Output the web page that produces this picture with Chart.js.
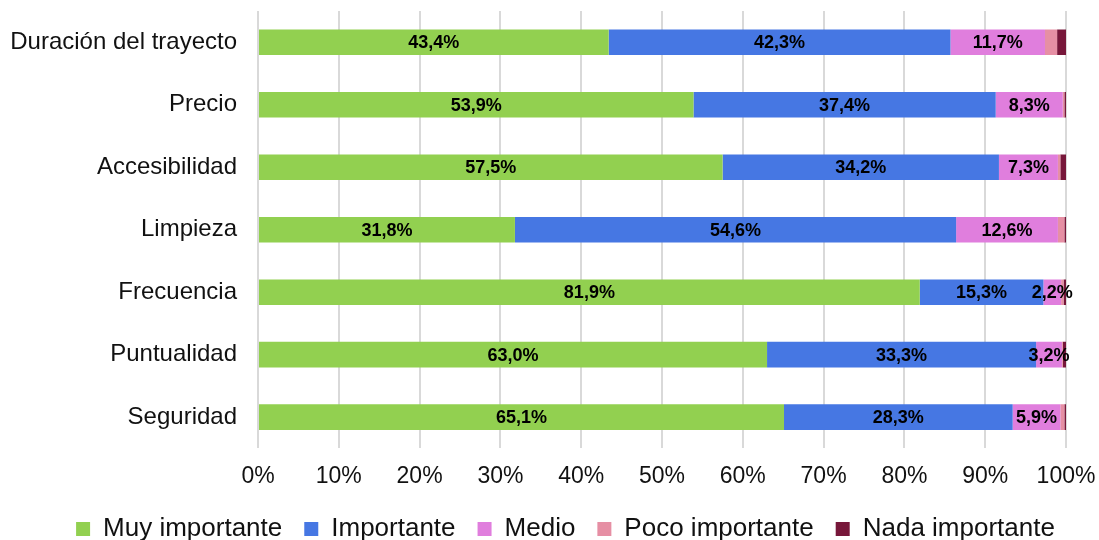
<!DOCTYPE html>
<html>
<head>
<meta charset="utf-8">
<script src="https://cdn.jsdelivr.net/npm/chart.js@4"></script>
<style>
  html, body { margin: 0; padding: 0; background: #fff; }
  #wrap { width: 1099px; height: 540px; }
</style>
</head>
<body>
<div id="wrap"><canvas id="FactoresChart"></canvas></div>
<script>
// Categorias
var categorias = ["Duración del trayecto", "Precio", "Accesibilidad", "Limpieza", "Frecuencia", "Puntualidad", "Seguridad"];

// Porcentajes por nivel de importancia
var muyImportante = [43.4, 53.9, 57.5, 31.8, 81.9, 63.0, 65.1];
var importante = [42.3, 37.4, 34.2, 54.6, 15.3, 33.3, 28.3];
var medio = [11.7, 8.3, 7.3, 12.6, 2.2, 3.2, 5.9];
var pocoImportante = [1.5, 0.2, 0.3, 0.8, 0.3, 0.1, 0.5];
var nadaImportante = [1.1, 0.2, 0.7, 0.2, 0.3, 0.4, 0.2];

var fuente = '"Liberation Sans", Arial, sans-serif';

// etiquetas dentro de las barras (solo las tres primeras series)
var etiquetasPlugin = {
    id: 'etiquetas',
    afterLayout: function (chart) {
        // centrar la leyenda como en el original
        if (chart.legend) {
            chart.legend.left += 11;
            chart.legend.right += 11;
        }
    },
    afterDatasetsDraw: function (chart) {
        var ctx = chart.ctx;
        ctx.save();
        ctx.font = 'bold 18px ' + fuente;
        ctx.fillStyle = '#000';
        ctx.textAlign = 'center';
        ctx.textBaseline = 'middle';
        chart.data.datasets.forEach(function (ds, i) {
            if (i > 2) return;
            chart.getDatasetMeta(i).data.forEach(function (bar, j) {
                var x = (bar.x + bar.base) / 2;
                ctx.fillText(ds.data[j].toFixed(1).replace('.', ',') + '%', x, bar.y + 1);
            });
        });
        ctx.restore();
    }
};

var ctx = document.getElementById("FactoresChart");

var FactoresChart = new Chart(ctx, {
    type: 'bar',
    data: {
        labels: categorias,
        datasets: [
            { label: "Muy importante", data: muyImportante, backgroundColor: "#92D050" },
            { label: "Importante", data: importante, backgroundColor: "#4677E3" },
            { label: "Medio", data: medio, backgroundColor: "#E07EDD" },
            { label: "Poco importante", data: pocoImportante, backgroundColor: "#E68FA4" },
            { label: "Nada importante", data: nadaImportante, backgroundColor: "#77173A" }
        ]
    },
    options: {
        indexAxis: 'y',
        responsive: true,
        maintainAspectRatio: false,
        animation: false,
        layout: { padding: { left: 10, right: 0, top: 11, bottom: -12 } },
        datasets: { bar: { categoryPercentage: 0.41, barPercentage: 1.0 } },
        scales: {
            x: {
                stacked: true,
                min: 0,
                max: 100,
                afterFit: function (scale) {
                    scale.paddingLeft = 0;
                    scale.paddingRight = 33;
                    scale.height -= 10;
                },
                ticks: {
                    stepSize: 10,
                    color: '#111',
                    padding: 14,
                    font: { family: fuente, size: 23 },
                    callback: function (v) { return v + '%'; }
                },
                grid: { color: '#d9d9d9', lineWidth: 2, drawTicks: false },
                border: { display: false }
            },
            y: {
                stacked: true,
                afterFit: function (scale) {
                    scale.width = 248;
                    scale.paddingTop = 0;
                    scale.paddingBottom = 0;
                },
                ticks: {
                    color: '#111',
                    padding: 21,
                    font: { family: fuente, size: 24 }
                },
                grid: { display: false, drawTicks: false },
                border: { display: false }
            }
        },
        plugins: {
            legend: {
                position: 'bottom',
                labels: {
                    boxWidth: 14,
                    boxHeight: 14,
                    padding: 22,
                    color: '#111',
                    font: { family: fuente, size: 26 }
                }
            },
            tooltip: { enabled: false }
        }
    },
    plugins: [etiquetasPlugin]
});
</script>
</body>
</html>
